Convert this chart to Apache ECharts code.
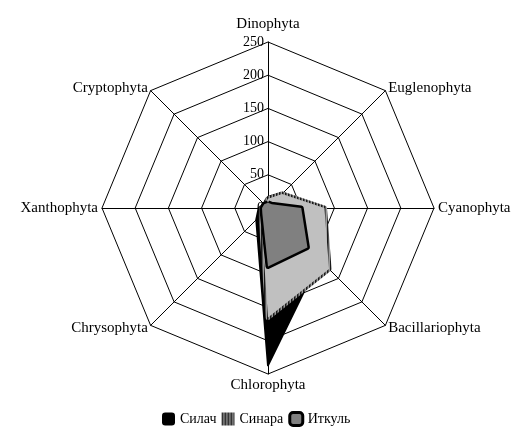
<!DOCTYPE html>
<html>
<head>
<meta charset="utf-8">
<script src="https://cdn.jsdelivr.net/npm/echarts@6/dist/echarts.min.js"></script>
<style>
html,body{margin:0;padding:0;background:#fff;}
#chart{width:528px;height:443px;}
</style>
</head>
<body>
<div id="chart"></div>
<script>
// Axes listed clockwise starting from the top
const categories = ['Dinophyta','Euglenophyta','Cyanophyta','Bacillariophyta','Chlorophyta','Chrysophyta','Xanthophyta','Cryptophyta'];
const seriesNames = ['Силач','Синара','Иткуль'];
const silach = [17, 32, 72, 110, 237, 25, 14, 9];
const sinara = [14, 30, 85, 130, 165, 15, 10, 7];
const itkul  = [8, 8, 50, 84, 88, 12, 9, 8];
const axisMax = 250;
const tickStep = 50;

// ECharts places indicators counter-clockwise; reorder so they run clockwise
const order = categories.map((c, i) => (categories.length - i) % categories.length);
const reorder = arr => order.map(i => arr[i]);

// vertical stripe pattern for Синара border
function stripes() {
  const c = document.createElement('canvas');
  c.width = 3; c.height = 3;
  const g = c.getContext('2d');
  g.fillStyle = '#9a9a9a'; g.fillRect(0,0,3,3);
  g.fillStyle = '#1a1a1a'; g.fillRect(0,0,1,3);
  g.fillStyle = '#555555'; g.fillRect(1,0,1,3);
  return {image: c, repeat: 'repeat'};
}
const stripePattern = stripes();

const font = '"Liberation Serif", "Times New Roman", serif';
const chart = echarts.init(document.getElementById('chart'), null, {renderer: 'canvas'});
const indicators = reorder(categories).map((name, i) => {
  const o = {name: name, min: 0, max: axisMax};
  if (i === 0) o.axisLabel = {show: true};
  return o;
});

chart.setOption({
  animation: false,
  backgroundColor: '#ffffff',
  textStyle: {fontFamily: font},
  legend: {
    top: 406,
    left: 157,
    itemWidth: 13,
    itemHeight: 13,
    itemGap: 5,
    icon: 'roundRect',
    textStyle: {fontFamily: font, fontSize: 14, color: '#000'},
    data: [
      {name: seriesNames[0], itemStyle: {color: '#000', borderColor: '#000', borderWidth: 0}},
      {name: seriesNames[1], icon: 'rect', itemStyle: {color: stripePattern, borderWidth: 0}},
      {name: seriesNames[2], itemStyle: {color: '#808080', borderColor: '#000', borderWidth: 3}}
    ]
  },
  radar: {
    center: [268, 208],
    radius: 166,
    startAngle: 90,
    splitNumber: axisMax / tickStep,
    shape: 'polygon',
    indicator: indicators,
    axisName: {
      color: '#000', fontFamily: font, fontSize: 15,
      formatter: function (name) { return name === categories[0] ? '{top|' + name + '}' : name; },
      rich: {top: {fontFamily: font, fontSize: 15, color: '#000', padding: [0, 0, 6, 0]}}
    },
    nameGap: 4,
    axisLine: {lineStyle: {color: '#000', width: 1}},
    splitLine: {lineStyle: {color: '#000', width: 1}},
    splitArea: {show: false},
    axisTick: {show: false},
    axisLabel: {show: false, color: '#000', fontFamily: font, fontSize: 14, margin: 4}
  },
  series: [
    {
      name: seriesNames[0], type: 'radar', symbol: 'none', z: 1,
      lineStyle: {color: '#000', width: 2},
      itemStyle: {color: '#000'},
      areaStyle: {color: '#000', opacity: 1},
      data: [{name: seriesNames[0], value: reorder(silach)}]
    },
    {
      name: seriesNames[1], type: 'radar', symbol: 'none', z: 2,
      lineStyle: {color: stripePattern, width: 5},
      itemStyle: {color: '#c0c0c0'},
      areaStyle: {color: '#c0c0c0', opacity: 1},
      data: [{name: seriesNames[1], value: reorder(sinara)}]
    },
    {
      name: seriesNames[2], type: 'radar', symbol: 'none', z: 3,
      lineStyle: {color: '#000', width: 5},
      itemStyle: {color: '#808080'},
      areaStyle: {color: '#808080', opacity: 1},
      data: [{name: seriesNames[2], value: reorder(itkul)}]
    }
  ]
});
</script>
</body>
</html>
